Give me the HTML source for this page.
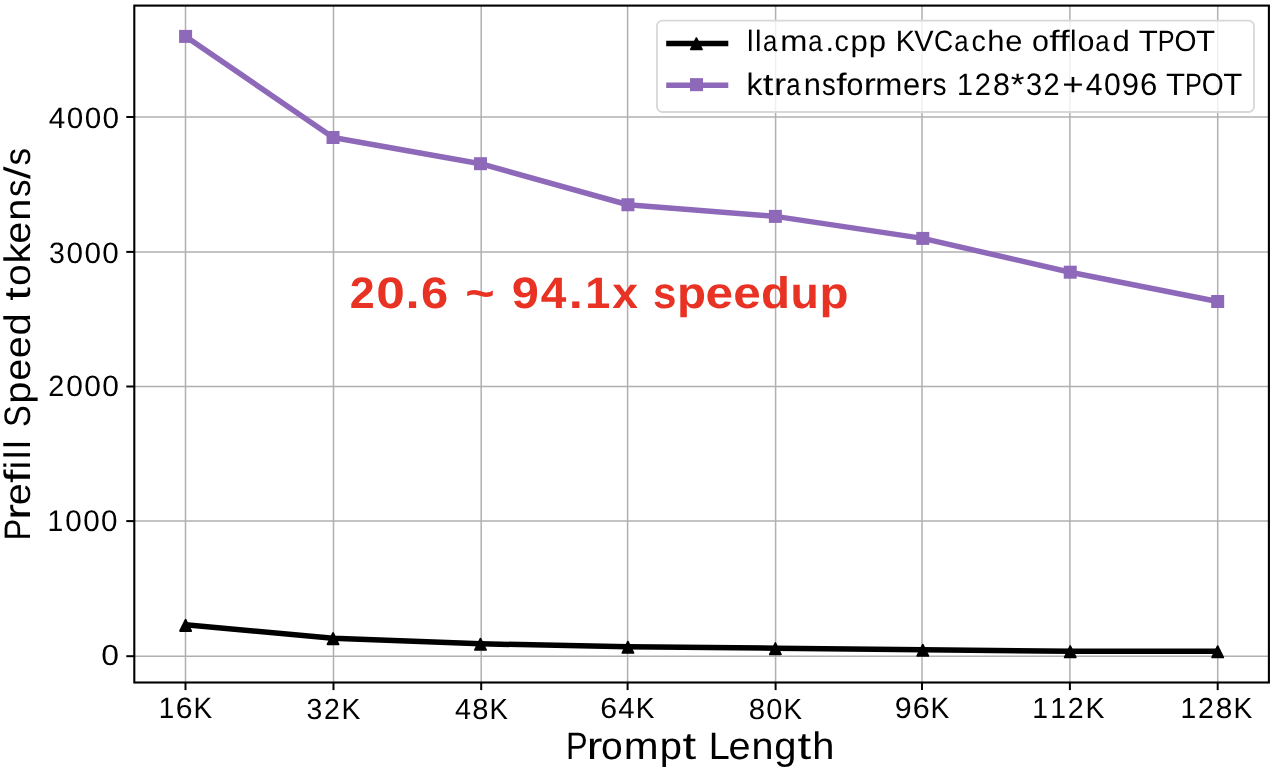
<!DOCTYPE html><html><head><meta charset="utf-8"><title>Prefill Speed chart</title>
<style>html,body{margin:0;padding:0;background:#fff;width:1280px;height:770px;overflow:hidden}svg{display:block;will-change:transform}text{font-family:"Liberation Sans",sans-serif;text-rendering:geometricPrecision}</style></head><body>
<svg width="1280" height="770" viewBox="0 0 1280 770">
<rect x="0" y="0" width="1280" height="770" fill="#fff"/>
<g stroke="#b0b0b0" stroke-width="1.5" fill="none">
<line x1="185.5" y1="5.6" x2="185.5" y2="682.5"/>
<line x1="333.5" y1="5.6" x2="333.5" y2="682.5"/>
<line x1="481.2" y1="5.6" x2="481.2" y2="682.5"/>
<line x1="627.6" y1="5.6" x2="627.6" y2="682.5"/>
<line x1="775.6" y1="5.6" x2="775.6" y2="682.5"/>
<line x1="922.0" y1="5.6" x2="922.0" y2="682.5"/>
<line x1="1069.9" y1="5.6" x2="1069.9" y2="682.5"/>
<line x1="1217.7" y1="5.6" x2="1217.7" y2="682.5"/>
<line x1="134.3" y1="656.2" x2="1268.9" y2="656.2"/>
<line x1="134.3" y1="521.1" x2="1268.9" y2="521.1"/>
<line x1="134.3" y1="386.5" x2="1268.9" y2="386.5"/>
<line x1="134.3" y1="251.9" x2="1268.9" y2="251.9"/>
<line x1="134.3" y1="117.0" x2="1268.9" y2="117.0"/>
</g>
<polyline points="185.60,624.85 333.04,638.15 480.48,643.80 627.92,646.80 775.36,648.20 922.80,649.80 1070.24,651.20 1217.68,651.25" fill="none" stroke="#000" stroke-width="5.5" stroke-linejoin="round" stroke-linecap="butt"/>
<polygon points="185.60,619.70 180.05,631.00 191.15,631.00" fill="#000" stroke="#000" stroke-width="1.8" stroke-linejoin="round"/>
<polygon points="333.04,633.00 327.49,644.30 338.59,644.30" fill="#000" stroke="#000" stroke-width="1.8" stroke-linejoin="round"/>
<polygon points="480.48,638.65 474.93,649.95 486.03,649.95" fill="#000" stroke="#000" stroke-width="1.8" stroke-linejoin="round"/>
<polygon points="627.92,641.65 622.37,652.95 633.47,652.95" fill="#000" stroke="#000" stroke-width="1.8" stroke-linejoin="round"/>
<polygon points="775.36,643.05 769.81,654.35 780.91,654.35" fill="#000" stroke="#000" stroke-width="1.8" stroke-linejoin="round"/>
<polygon points="922.80,644.65 917.25,655.95 928.35,655.95" fill="#000" stroke="#000" stroke-width="1.8" stroke-linejoin="round"/>
<polygon points="1070.24,646.05 1064.69,657.35 1075.79,657.35" fill="#000" stroke="#000" stroke-width="1.8" stroke-linejoin="round"/>
<polygon points="1217.68,646.10 1212.13,657.40 1223.23,657.40" fill="#000" stroke="#000" stroke-width="1.8" stroke-linejoin="round"/>
<polyline points="185.60,36.40 333.04,137.50 480.48,163.70 627.92,204.75 775.36,216.40 922.80,238.40 1070.24,272.20 1217.68,301.50" fill="none" stroke="#8e69b9" stroke-width="5.5" stroke-linejoin="round" stroke-linecap="butt"/>
<rect x="179.10" y="29.90" width="13.0" height="13.0" fill="#8e69b9"/>
<rect x="326.54" y="131.00" width="13.0" height="13.0" fill="#8e69b9"/>
<rect x="473.98" y="157.20" width="13.0" height="13.0" fill="#8e69b9"/>
<rect x="621.42" y="198.25" width="13.0" height="13.0" fill="#8e69b9"/>
<rect x="768.86" y="209.90" width="13.0" height="13.0" fill="#8e69b9"/>
<rect x="916.30" y="231.90" width="13.0" height="13.0" fill="#8e69b9"/>
<rect x="1063.74" y="265.70" width="13.0" height="13.0" fill="#8e69b9"/>
<rect x="1211.18" y="295.00" width="13.0" height="13.0" fill="#8e69b9"/>
<rect x="134.3" y="5.6" width="1134.60" height="676.90" fill="none" stroke="#000" stroke-width="2.1" stroke-linejoin="miter"/>
<g stroke="#000" stroke-width="2" fill="none">
<line x1="185.5" y1="682.5" x2="185.5" y2="690.1"/>
<line x1="333.5" y1="682.5" x2="333.5" y2="690.1"/>
<line x1="481.2" y1="682.5" x2="481.2" y2="690.1"/>
<line x1="627.6" y1="682.5" x2="627.6" y2="690.1"/>
<line x1="775.6" y1="682.5" x2="775.6" y2="690.1"/>
<line x1="922.0" y1="682.5" x2="922.0" y2="690.1"/>
<line x1="1069.9" y1="682.5" x2="1069.9" y2="690.1"/>
<line x1="1217.7" y1="682.5" x2="1217.7" y2="690.1"/>
<line x1="134.3" y1="656.2" x2="126.30000000000001" y2="656.2"/>
<line x1="134.3" y1="521.1" x2="126.30000000000001" y2="521.1"/>
<line x1="134.3" y1="386.5" x2="126.30000000000001" y2="386.5"/>
<line x1="134.3" y1="251.9" x2="126.30000000000001" y2="251.9"/>
<line x1="134.3" y1="117.0" x2="126.30000000000001" y2="117.0"/>
</g>
<text y="718.46" font-size="29.52" font-weight="400" fill="#000" xml:space="preserve"><tspan x="158.69" textLength="15.50" lengthAdjust="spacingAndGlyphs">1</tspan><tspan x="175.79" textLength="16.80" lengthAdjust="spacingAndGlyphs">6</tspan><tspan x="193.43" textLength="18.63" lengthAdjust="spacingAndGlyphs">K</tspan></text>
<text y="718.69" font-size="29.03" font-weight="400" fill="#000" xml:space="preserve"><tspan x="306.54" textLength="15.79" lengthAdjust="spacingAndGlyphs">3</tspan><tspan x="323.95" textLength="15.85" lengthAdjust="spacingAndGlyphs">2</tspan><tspan x="341.60" textLength="18.87" lengthAdjust="spacingAndGlyphs">K</tspan></text>
<text y="718.68" font-size="29.16" font-weight="400" fill="#000" xml:space="preserve"><tspan x="455.02" textLength="16.03" lengthAdjust="spacingAndGlyphs">4</tspan><tspan x="472.33" textLength="16.20" lengthAdjust="spacingAndGlyphs">8</tspan><tspan x="489.56" textLength="18.39" lengthAdjust="spacingAndGlyphs">K</tspan></text>
<text y="718.19" font-size="29.03" font-weight="400" fill="#000" xml:space="preserve"><tspan x="600.39" textLength="16.85" lengthAdjust="spacingAndGlyphs">6</tspan><tspan x="618.34" textLength="16.28" lengthAdjust="spacingAndGlyphs">4</tspan><tspan x="635.75" textLength="18.68" lengthAdjust="spacingAndGlyphs">K</tspan></text>
<text y="718.69" font-size="29.07" font-weight="400" fill="#000" xml:space="preserve"><tspan x="748.68" textLength="16.33" lengthAdjust="spacingAndGlyphs">8</tspan><tspan x="766.30" textLength="16.16" lengthAdjust="spacingAndGlyphs">0</tspan><tspan x="783.58" textLength="18.54" lengthAdjust="spacingAndGlyphs">K</tspan></text>
<text y="718.48" font-size="29.63" font-weight="400" fill="#000" xml:space="preserve"><tspan x="894.83" textLength="16.93" lengthAdjust="spacingAndGlyphs">9</tspan><tspan x="912.68" textLength="16.96" lengthAdjust="spacingAndGlyphs">6</tspan><tspan x="930.49" textLength="18.80" lengthAdjust="spacingAndGlyphs">K</tspan></text>
<text y="718.44" font-size="29.04" font-weight="400" fill="#000" xml:space="preserve"><tspan x="1032.29" textLength="15.76" lengthAdjust="spacingAndGlyphs">1</tspan><tspan x="1050.20" textLength="15.76" lengthAdjust="spacingAndGlyphs">1</tspan><tspan x="1067.80" textLength="15.91" lengthAdjust="spacingAndGlyphs">2</tspan><tspan x="1085.52" textLength="18.94" lengthAdjust="spacingAndGlyphs">K</tspan></text>
<text y="718.10" font-size="28.93" font-weight="400" fill="#000" xml:space="preserve"><tspan x="1180.48" textLength="15.69" lengthAdjust="spacingAndGlyphs">1</tspan><tspan x="1198.01" textLength="15.84" lengthAdjust="spacingAndGlyphs">2</tspan><tspan x="1215.82" textLength="16.61" lengthAdjust="spacingAndGlyphs">8</tspan><tspan x="1233.48" textLength="18.85" lengthAdjust="spacingAndGlyphs">K</tspan></text>
<text y="665.19" font-size="29.03" font-weight="400" fill="#000" xml:space="preserve"><tspan x="101.35" textLength="17.72" lengthAdjust="spacingAndGlyphs">0</tspan></text>
<text y="530.62" font-size="29.77" font-weight="400" fill="#000" xml:space="preserve"><tspan x="47.59" textLength="15.75" lengthAdjust="spacingAndGlyphs">1</tspan><tspan x="65.25" textLength="16.49" lengthAdjust="spacingAndGlyphs">0</tspan><tspan x="83.15" textLength="16.49" lengthAdjust="spacingAndGlyphs">0</tspan><tspan x="101.05" textLength="16.49" lengthAdjust="spacingAndGlyphs">0</tspan></text>
<text y="395.96" font-size="29.33" font-weight="400" fill="#000" xml:space="preserve"><tspan x="48.26" textLength="16.00" lengthAdjust="spacingAndGlyphs">2</tspan><tspan x="66.34" textLength="16.60" lengthAdjust="spacingAndGlyphs">0</tspan><tspan x="84.35" textLength="16.60" lengthAdjust="spacingAndGlyphs">0</tspan><tspan x="102.36" textLength="16.60" lengthAdjust="spacingAndGlyphs">0</tspan></text>
<text y="262.73" font-size="29.46" font-weight="400" fill="#000" xml:space="preserve"><tspan x="48.95" textLength="15.85" lengthAdjust="spacingAndGlyphs">3</tspan><tspan x="66.50" textLength="16.50" lengthAdjust="spacingAndGlyphs">0</tspan><tspan x="84.41" textLength="16.50" lengthAdjust="spacingAndGlyphs">0</tspan><tspan x="102.32" textLength="16.50" lengthAdjust="spacingAndGlyphs">0</tspan></text>
<text y="128.05" font-size="29.46" font-weight="400" fill="#000" xml:space="preserve"><tspan x="48.85" textLength="16.51" lengthAdjust="spacingAndGlyphs">4</tspan><tspan x="66.77" textLength="16.51" lengthAdjust="spacingAndGlyphs">0</tspan><tspan x="84.68" textLength="16.51" lengthAdjust="spacingAndGlyphs">0</tspan><tspan x="102.59" textLength="16.51" lengthAdjust="spacingAndGlyphs">0</tspan></text>
<text y="758.57" font-size="38.30" font-weight="400" fill="#000" xml:space="preserve"><tspan x="565.88" textLength="21.66" lengthAdjust="spacingAndGlyphs">P</tspan><tspan x="586.65" textLength="15.67" lengthAdjust="spacingAndGlyphs">r</tspan><tspan x="601.12" textLength="21.71" lengthAdjust="spacingAndGlyphs">o</tspan><tspan x="623.76" textLength="34.86" lengthAdjust="spacingAndGlyphs">m</tspan><tspan x="659.73" textLength="22.22" lengthAdjust="spacingAndGlyphs">p</tspan><tspan x="682.53" textLength="13.64" lengthAdjust="spacingAndGlyphs">t</tspan><tspan x="696.68"> </tspan><tspan x="708.86" textLength="21.01" lengthAdjust="spacingAndGlyphs">L</tspan><tspan x="728.51" textLength="22.06" lengthAdjust="spacingAndGlyphs">e</tspan><tspan x="751.47" textLength="22.02" lengthAdjust="spacingAndGlyphs">n</tspan><tspan x="774.39" textLength="22.20" lengthAdjust="spacingAndGlyphs">g</tspan><tspan x="797.60" textLength="13.64" lengthAdjust="spacingAndGlyphs">t</tspan><tspan x="812.33" textLength="22.17" lengthAdjust="spacingAndGlyphs">h</tspan></text>
<text transform="rotate(-90)" y="30.34" font-size="36.88" font-weight="400" fill="#000" xml:space="preserve"><tspan x="-540.62" textLength="21.68" lengthAdjust="spacingAndGlyphs">P</tspan><tspan x="-519.83" textLength="15.68" lengthAdjust="spacingAndGlyphs">r</tspan><tspan x="-505.39" textLength="22.08" lengthAdjust="spacingAndGlyphs">e</tspan><tspan x="-482.95" textLength="13.41" lengthAdjust="spacingAndGlyphs">f</tspan><tspan x="-469.22" textLength="8.35" lengthAdjust="spacingAndGlyphs">i</tspan><tspan x="-459.03" textLength="8.35" lengthAdjust="spacingAndGlyphs">l</tspan><tspan x="-448.81" textLength="8.35" lengthAdjust="spacingAndGlyphs">l</tspan><tspan x="-439.53"> </tspan><tspan x="-426.91" textLength="21.86" lengthAdjust="spacingAndGlyphs">S</tspan><tspan x="-403.75" textLength="22.24" lengthAdjust="spacingAndGlyphs">p</tspan><tspan x="-380.84" textLength="22.08" lengthAdjust="spacingAndGlyphs">e</tspan><tspan x="-358.22" textLength="22.08" lengthAdjust="spacingAndGlyphs">e</tspan><tspan x="-335.60" textLength="22.22" lengthAdjust="spacingAndGlyphs">d</tspan><tspan x="-312.61"> </tspan><tspan x="-300.69" textLength="13.65" lengthAdjust="spacingAndGlyphs">t</tspan><tspan x="-286.13" textLength="21.73" lengthAdjust="spacingAndGlyphs">o</tspan><tspan x="-263.46" textLength="20.55" lengthAdjust="spacingAndGlyphs">k</tspan><tspan x="-243.71" textLength="22.08" lengthAdjust="spacingAndGlyphs">e</tspan><tspan x="-220.73" textLength="22.04" lengthAdjust="spacingAndGlyphs">n</tspan><tspan x="-197.12" textLength="17.62" lengthAdjust="spacingAndGlyphs">s</tspan><tspan x="-178.98" textLength="12.38" lengthAdjust="spacingAndGlyphs">/</tspan><tspan x="-165.59" textLength="17.62" lengthAdjust="spacingAndGlyphs">s</tspan></text>
<text y="307.55" font-size="44.04" font-weight="700" fill="#e83224" xml:space="preserve"><tspan x="349.77" textLength="24.95" lengthAdjust="spacingAndGlyphs">2</tspan><tspan x="376.39" textLength="28.61" lengthAdjust="spacingAndGlyphs">0</tspan><tspan x="405.56" textLength="14.11" lengthAdjust="spacingAndGlyphs">.</tspan><tspan x="421.07" textLength="27.21" lengthAdjust="spacingAndGlyphs">6</tspan><tspan x="448.70"> </tspan><tspan x="465.23" textLength="29.41" lengthAdjust="spacingAndGlyphs">~</tspan><tspan x="497.06"> </tspan><tspan x="511.67" textLength="27.16" lengthAdjust="spacingAndGlyphs">9</tspan><tspan x="540.76" textLength="25.61" lengthAdjust="spacingAndGlyphs">4</tspan><tspan x="568.71" textLength="14.11" lengthAdjust="spacingAndGlyphs">.</tspan><tspan x="585.25" textLength="25.06" lengthAdjust="spacingAndGlyphs">1</tspan><tspan x="612.16" textLength="25.72" lengthAdjust="spacingAndGlyphs">x</tspan><tspan x="638.15"> </tspan><tspan x="652.98" textLength="23.44" lengthAdjust="spacingAndGlyphs">s</tspan><tspan x="676.91" textLength="29.01" lengthAdjust="spacingAndGlyphs">p</tspan><tspan x="705.62" textLength="27.56" lengthAdjust="spacingAndGlyphs">e</tspan><tspan x="733.27" textLength="27.56" lengthAdjust="spacingAndGlyphs">e</tspan><tspan x="760.99" textLength="29.01" lengthAdjust="spacingAndGlyphs">d</tspan><tspan x="790.60" textLength="28.36" lengthAdjust="spacingAndGlyphs">u</tspan><tspan x="819.62" textLength="29.01" lengthAdjust="spacingAndGlyphs">p</tspan></text>
<rect x="657.0" y="20.6" width="597.0" height="91.4" rx="5.5" ry="5.5" fill="#fff" fill-opacity="0.8" stroke="#d8d8d8" stroke-width="1.8"/>
<line x1="666.2" y1="43.6" x2="728.3" y2="43.6" stroke="#000" stroke-width="5.5"/>
<polygon points="696.40,38.10 690.85,49.40 701.95,49.40" fill="#000" stroke="#000" stroke-width="1.8" stroke-linejoin="round"/>
<line x1="666.2" y1="85.2" x2="728.3" y2="85.2" stroke="#8e69b9" stroke-width="5.5"/>
<rect x="690.00" y="78.15" width="13.0" height="13.0" fill="#8e69b9"/>
<text y="51.45" font-size="29.51" font-weight="400" fill="#000" xml:space="preserve"><tspan x="747.11" textLength="6.49" lengthAdjust="spacingAndGlyphs">l</tspan><tspan x="755.06" textLength="6.49" lengthAdjust="spacingAndGlyphs">l</tspan><tspan x="762.90" textLength="14.30" lengthAdjust="spacingAndGlyphs">a</tspan><tspan x="780.23" textLength="27.14" lengthAdjust="spacingAndGlyphs">m</tspan><tspan x="808.27" textLength="14.30" lengthAdjust="spacingAndGlyphs">a</tspan><tspan x="825.40" textLength="8.60" lengthAdjust="spacingAndGlyphs">.</tspan><tspan x="834.62" textLength="14.34" lengthAdjust="spacingAndGlyphs">c</tspan><tspan x="850.57" textLength="17.30" lengthAdjust="spacingAndGlyphs">p</tspan><tspan x="868.72" textLength="17.30" lengthAdjust="spacingAndGlyphs">p</tspan><tspan x="886.28"> </tspan><tspan x="895.81" textLength="19.23" lengthAdjust="spacingAndGlyphs">K</tspan><tspan x="914.21" textLength="19.35" lengthAdjust="spacingAndGlyphs">V</tspan><tspan x="933.93" textLength="19.17" lengthAdjust="spacingAndGlyphs">C</tspan><tspan x="954.26" textLength="14.30" lengthAdjust="spacingAndGlyphs">a</tspan><tspan x="971.52" textLength="14.34" lengthAdjust="spacingAndGlyphs">c</tspan><tspan x="987.32" textLength="17.26" lengthAdjust="spacingAndGlyphs">h</tspan><tspan x="1005.27" textLength="17.18" lengthAdjust="spacingAndGlyphs">e</tspan><tspan x="1022.59"> </tspan><tspan x="1031.98" textLength="16.90" lengthAdjust="spacingAndGlyphs">o</tspan><tspan x="1049.30" textLength="10.43" lengthAdjust="spacingAndGlyphs">f</tspan><tspan x="1059.37" textLength="10.43" lengthAdjust="spacingAndGlyphs">f</tspan><tspan x="1070.03" textLength="6.49" lengthAdjust="spacingAndGlyphs">l</tspan><tspan x="1077.55" textLength="16.90" lengthAdjust="spacingAndGlyphs">o</tspan><tspan x="1095.37" textLength="14.30" lengthAdjust="spacingAndGlyphs">a</tspan><tspan x="1112.54" textLength="17.28" lengthAdjust="spacingAndGlyphs">d</tspan><tspan x="1130.41"> </tspan><tspan x="1138.72" textLength="19.05" lengthAdjust="spacingAndGlyphs">T</tspan><tspan x="1157.70" textLength="16.87" lengthAdjust="spacingAndGlyphs">P</tspan><tspan x="1174.48" textLength="21.99" lengthAdjust="spacingAndGlyphs">O</tspan><tspan x="1195.93" textLength="19.05" lengthAdjust="spacingAndGlyphs">T</tspan></text>
<text y="94.60" font-size="31.02" font-weight="400" fill="#000" xml:space="preserve"><tspan x="746.55" textLength="15.97" lengthAdjust="spacingAndGlyphs">k</tspan><tspan x="762.84" textLength="10.61" lengthAdjust="spacingAndGlyphs">t</tspan><tspan x="774.02" textLength="12.19" lengthAdjust="spacingAndGlyphs">r</tspan><tspan x="786.22" textLength="14.29" lengthAdjust="spacingAndGlyphs">a</tspan><tspan x="803.66" textLength="17.13" lengthAdjust="spacingAndGlyphs">n</tspan><tspan x="822.00" textLength="13.69" lengthAdjust="spacingAndGlyphs">s</tspan><tspan x="836.22" textLength="10.42" lengthAdjust="spacingAndGlyphs">f</tspan><tspan x="846.46" textLength="16.89" lengthAdjust="spacingAndGlyphs">o</tspan><tspan x="863.80" textLength="12.19" lengthAdjust="spacingAndGlyphs">r</tspan><tspan x="875.31" textLength="27.11" lengthAdjust="spacingAndGlyphs">m</tspan><tspan x="902.97" textLength="17.16" lengthAdjust="spacingAndGlyphs">e</tspan><tspan x="920.45" textLength="12.19" lengthAdjust="spacingAndGlyphs">r</tspan><tspan x="932.82" textLength="13.69" lengthAdjust="spacingAndGlyphs">s</tspan><tspan x="946.91"> </tspan><tspan x="956.94" textLength="16.00" lengthAdjust="spacingAndGlyphs">1</tspan><tspan x="974.80" textLength="16.14" lengthAdjust="spacingAndGlyphs">2</tspan><tspan x="992.96" textLength="16.93" lengthAdjust="spacingAndGlyphs">8</tspan><tspan x="1010.81" textLength="13.70" lengthAdjust="spacingAndGlyphs">*</tspan><tspan x="1025.88" textLength="16.08" lengthAdjust="spacingAndGlyphs">3</tspan><tspan x="1043.62" textLength="16.14" lengthAdjust="spacingAndGlyphs">2</tspan><tspan x="1062.39" textLength="21.50" lengthAdjust="spacingAndGlyphs">+</tspan><tspan x="1085.80" textLength="16.75" lengthAdjust="spacingAndGlyphs">4</tspan><tspan x="1103.98" textLength="16.75" lengthAdjust="spacingAndGlyphs">0</tspan><tspan x="1121.79" textLength="17.30" lengthAdjust="spacingAndGlyphs">9</tspan><tspan x="1140.04" textLength="17.33" lengthAdjust="spacingAndGlyphs">6</tspan><tspan x="1157.80"> </tspan><tspan x="1166.10" textLength="19.03" lengthAdjust="spacingAndGlyphs">T</tspan><tspan x="1185.07" textLength="16.85" lengthAdjust="spacingAndGlyphs">P</tspan><tspan x="1201.83" textLength="21.97" lengthAdjust="spacingAndGlyphs">O</tspan><tspan x="1223.27" textLength="19.03" lengthAdjust="spacingAndGlyphs">T</tspan></text>
</svg></body></html>
